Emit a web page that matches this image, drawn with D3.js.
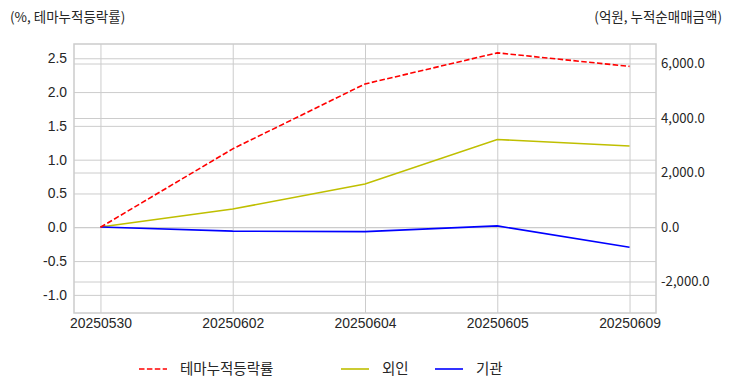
<!DOCTYPE html>
<html>
<head>
<meta charset="utf-8">
<script src="https://cdn.jsdelivr.net/npm/d3@7"></script>
<style>
  body { margin: 0; background: #fff; }
  svg text { fill: #262626; }
</style>
</head>
<body>
<svg id="chart" width="732" height="392"></svg>
<script>
// 데이터
var dates = ['20250530', '20250602', '20250604', '20250605', '20250609'];
var themeRate = [0, 1.16, 2.12, 2.58, 2.38];      // 테마누적등락률 (%)
var foreignAmt = [0, 660, 1580, 3210, 2970];      // 외인 (억원)
var instAmt = [0, -150, -170, 40, -740];          // 기관 (억원)
var leftTicks = [-1.0, -0.5, 0.0, 0.5, 1.0, 1.5, 2.0, 2.5];
var rightTicks = [-2000, 0, 2000, 4000, 6000];

var svg = d3.select('#chart');
var margin = { left: 74, right: 76, top: 44, bottom: 79 };
var width = 732 - margin.left - margin.right;
var height = 392 - margin.top - margin.bottom;
var latin = 'Liberation Sans, Arial, sans-serif';
var kor = 'Noto Sans CJK KR, sans-serif';

// 하이픈 마이너스 사용
var fmtL = d => d3.format('.1f')(d).replace('\u2212', '-');
var fmtR = d => d3.format(',.1f')(d).replace('\u2212', '-');

var g = svg.append('g').attr('transform', 'translate(' + margin.left + ',' + margin.top + ')');

// 스케일 (matplotlib 기본 5% 여백)
var xl = d3.scaleLinear().domain([-0.2, dates.length - 0.8]).range([0, width]);
var yL = d3.scaleLinear().domain([-1.268, 2.711]).range([height, 0]);
var yR = d3.scaleLinear().domain([-3156, 6716]).range([height, 0]);

// 그리드 + 축
g.append('g')
    .attr('transform', 'translate(0,' + height + ')')
    .call(d3.axisBottom(xl).tickValues(d3.range(dates.length)).tickSize(-height).tickFormat(i => dates[i]).tickPadding(5))
    .call(a => a.select('.domain').remove())
    .selectAll('text').style('font-family', latin).style('font-size', '13.9px');

g.append('g')
    .call(d3.axisLeft(yL).tickValues(leftTicks).tickSize(-width).tickFormat(fmtL).tickPadding(7))
    .call(a => a.select('.domain').remove())
    .selectAll('text').style('font-family', latin).style('font-size', '13.9px');

g.append('g')
    .attr('transform', 'translate(' + width + ',0)')
    .call(d3.axisRight(yR).tickValues(rightTicks).tickSize(-width).tickFormat(fmtR).tickPadding(5))
    .call(a => a.select('.domain').remove())
    .selectAll('text').style('font-family', kor).style('font-size', '13.2px');

svg.selectAll('.tick line').attr('stroke', '#cccccc').attr('stroke-width', 1);
svg.selectAll('.tick text').attr('fill', '#262626');

// 테두리
g.append('rect')
    .attr('width', width).attr('height', height)
    .attr('fill', 'none').attr('stroke', '#cccccc').attr('stroke-width', 1.5);

// 선
var lineL = d3.line().x((d, i) => xl(i)).y(d => yL(d));
var lineR = d3.line().x((d, i) => xl(i)).y(d => yR(d));

g.append('path').datum(foreignAmt)
    .attr('d', lineR).attr('fill', 'none').attr('stroke', '#bfbf00').attr('stroke-width', 1.6);
g.append('path').datum(instAmt)
    .attr('d', lineR).attr('fill', 'none').attr('stroke', '#0000ff').attr('stroke-width', 1.6);
g.append('path').datum(themeRate)
    .attr('d', lineL).attr('fill', 'none').attr('stroke', '#ff0000').attr('stroke-width', 1.6)
    .attr('stroke-dasharray', '5.5,2.4');

// 축 제목
svg.append('text').attr('x', 10).attr('y', 22)
    .style('font-family', kor).style('font-size', '13.5px')
    .text('(%, 테마누적등락률)');
svg.append('text').attr('x', 722).attr('y', 22).attr('text-anchor', 'end')
    .style('font-family', kor).style('font-size', '13.5px')
    .text('(억원, 누적순매매금액)');

// 범례
var legend = [
    { name: '테마누적등락률', color: '#ff0000', dash: '5.5,2.4', x: 139 },
    { name: '외인', color: '#bfbf00', dash: null, x: 341 },
    { name: '기관', color: '#0000ff', dash: null, x: 435 }
];
var lg = svg.append('g').selectAll('g').data(legend).enter().append('g')
    .attr('transform', d => 'translate(' + d.x + ',369)');
lg.append('line').attr('x1', 0).attr('x2', 28).attr('y1', 0).attr('y2', 0)
    .attr('stroke', d => d.color).attr('stroke-width', 1.6)
    .attr('stroke-dasharray', d => d.dash);
lg.append('text').attr('x', 41).attr('y', 0).attr('dy', '0.35em')
    .style('font-family', kor).style('font-size', '14.5px')
    .text(d => d.name);
</script>
</body>
</html>
